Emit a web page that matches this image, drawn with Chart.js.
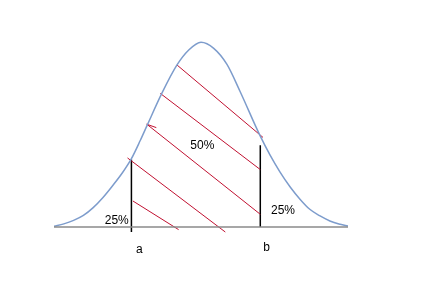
<!DOCTYPE html>
<html>
<head>
<meta charset="utf-8">
<script src="https://cdn.jsdelivr.net/npm/chart.js@4/dist/chart.umd.min.js"></script>
<style>
  body { margin: 0; background: #fff; }
  #wrap { width: 425px; height: 295px; }
</style>
</head>
<body>
<div id="wrap"><canvas id="chart" width="425" height="295"></canvas></div>
<script>
// bell curve, x in standard units, y relative to peak height
var curveX = [-3.0, -2.8, -2.6, -2.4, -2.2, -2.0, -1.8, -1.6, -1.42, -1.24, -1.1, -0.8, -0.49, -0.25, 0, 0.26, 0.53, 0.8, 1.2, 1.41, 1.61, 1.82, 2.02, 2.22, 2.43, 2.63, 2.84, 3.0];
var curveY = [0.004, 0.017, 0.036, 0.063, 0.105, 0.16, 0.225, 0.295, 0.37, 0.468, 0.55, 0.723, 0.877, 0.958, 1.0, 0.967, 0.88, 0.732, 0.497, 0.389, 0.299, 0.217, 0.151, 0.096, 0.06, 0.033, 0.015, 0.005];

// red hatching segments: [x1, y1, x2, y2]
var hatchLines = [
  [-0.49, 0.877, 1.265, 0.485],
  [-0.83, 0.723, 1.21, 0.311],
  [-1.10, 0.555, 1.21, 0.069],
  [-1.114, 0.557, -0.912, 0.538],
  [-1.50, 0.374, 0.496, -0.027],
  [-1.39, 0.141, -0.457, -0.014]
];

// the two cut points a and b: [x, top, bottom]
var cutNames = ['a', 'b'];
var cutLines = [
  [-1.42, 0.365, -0.027],
  [1.21, 0.443, 0]
];

var labelText = ['25%', '50%', '25%', 'a', 'b'];
var labelX = [-1.72, 0.027, 1.673, -1.26, 1.34];
var labelY = [0.018, 0.421, 0.073, -0.143, -0.130];

var datasets = [];
datasets.push({
  data: [{ x: -3, y: 0 }, { x: 3, y: 0 }],
  borderColor: '#8a8a8a',
  borderWidth: 1.5
});
datasets.push({
  data: curveX.map(function (x, i) { return { x: x, y: curveY[i] }; }),
  borderColor: '#7d9ccc',
  borderWidth: 1.5,
  cubicInterpolationMode: 'monotone'
});
hatchLines.forEach(function (l) {
  datasets.push({
    data: [{ x: l[0], y: l[1] }, { x: l[2], y: l[3] }],
    borderColor: '#c01030',
    borderWidth: 1
  });
});
cutLines.forEach(function (c) {
  datasets.push({
    data: [{ x: c[0], y: c[1] }, { x: c[0], y: c[2] }],
    borderColor: '#000',
    borderWidth: 1.5
  });
});

var chart = new Chart(document.getElementById('chart'), {
  type: 'line',
  data: { datasets: datasets },
  options: {
    responsive: false,
    animation: false,
    elements: { point: { radius: 0 } },
    layout: { padding: { left: 54, right: 77, top: 33, bottom: 31 } },
    scales: {
      x: { type: 'linear', min: -3, max: 3, display: false },
      y: { min: -0.2, max: 1.05, display: false }
    },
    plugins: {
      legend: { display: false },
      tooltip: { enabled: false }
    }
  },
  plugins: [{
    afterDraw: function (c) {
      var ctx = c.ctx;
      ctx.save();
      ctx.font = '12px "Liberation Sans", Arial, sans-serif';
      ctx.fillStyle = '#000';
      ctx.textAlign = 'center';
      ctx.textBaseline = 'alphabetic';
      labelText.forEach(function (t, i) {
        ctx.fillText(t, c.scales.x.getPixelForValue(labelX[i]), c.scales.y.getPixelForValue(labelY[i]));
      });
      ctx.restore();
    }
  }]
});
</script>
</body>
</html>
